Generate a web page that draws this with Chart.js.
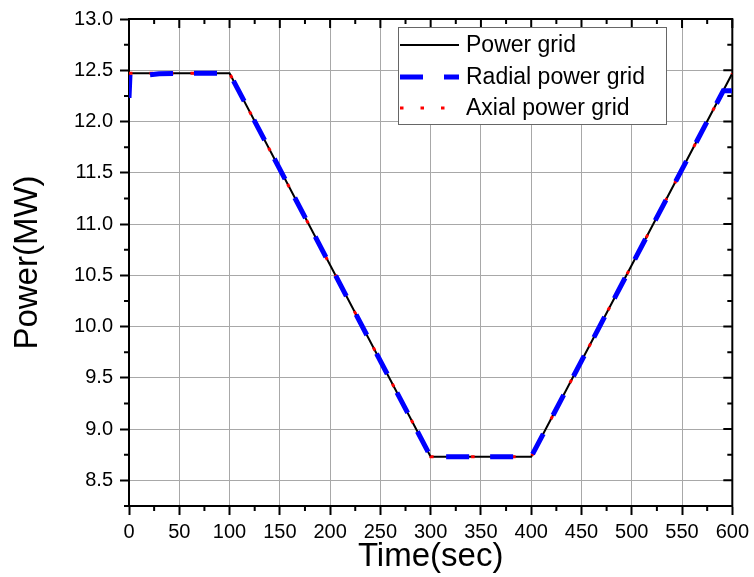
<!DOCTYPE html>
<html>
<head>
<meta charset="utf-8">
<script src="https://cdn.jsdelivr.net/npm/chart.js@4"></script>
<style>
  html, body { margin: 0; padding: 0; background: #fff; }
  #wrap { width: 754px; height: 577px; }
</style>
</head>
<body>
<div id="wrap"><canvas id="power-chart"></canvas></div>
<script>
// Données : puissance du réseau (MW) en fonction du temps (s)
const gridTime = [0, 100, 300, 400, 600];
const gridPower = [12.47, 12.47, 8.73, 8.73, 12.47];

const radialTime = [0, 1, 5, 15, 30, 50, 100, 300, 400, 591, 600];
const radialPower = [12.23, 12.46, 12.445, 12.45, 12.465, 12.47, 12.47, 8.73, 8.73, 12.30, 12.30];

const axialTime = [0, 100, 300, 400, 600];
const axialPower = [12.47, 12.47, 8.73, 8.73, 12.47];

const xTicks = [0, 50, 100, 150, 200, 250, 300, 350, 400, 450, 500, 550, 600];
const yTicks = [8.5, 9.0, 9.5, 10.0, 10.5, 11.0, 11.5, 12.0, 12.5, 13.0];
const seriesNames = ['Power grid', 'Radial power grid', 'Axial power grid'];

const FONT = '"Liberation Sans", Arial, sans-serif';

function toPoints(xs, ys) {
    return xs.map((x, i) => ({ x: x, y: ys[i] }));
}

// Cadre, petites graduations et graduations intérieures (haut / droite)
const framePlugin = {
    id: 'frame',
    beforeDatasetsDraw(chart) {
        const ctx = chart.ctx;
        const a = chart.chartArea;
        const xs = chart.scales.x;
        const ys = chart.scales.y;
        ctx.save();
        ctx.strokeStyle = '#000';
        ctx.lineWidth = 2;
        ctx.beginPath();
        // petites graduations en x
        for (let i = 0; i < xTicks.length - 1; i++) {
            const px = xs.getPixelForValue((xTicks[i] + xTicks[i + 1]) / 2);
            ctx.moveTo(px, a.bottom); ctx.lineTo(px, a.bottom + 5);
            ctx.moveTo(px, a.top); ctx.lineTo(px, a.top + 5);
        }
        // graduations majeures en haut
        xTicks.forEach(v => {
            const px = xs.getPixelForValue(v);
            ctx.moveTo(px, a.top); ctx.lineTo(px, a.top + 9);
        });
        // petites graduations en y
        const yMinor = [8.25].concat(yTicks.slice(0, -1).map(v => v + 0.25));
        yMinor.forEach(v => {
            const py = ys.getPixelForValue(v);
            ctx.moveTo(a.left, py); ctx.lineTo(a.left - 5, py);
            ctx.moveTo(a.right, py); ctx.lineTo(a.right - 5, py);
        });
        // graduations majeures à droite
        yTicks.forEach(v => {
            const py = ys.getPixelForValue(v);
            ctx.moveTo(a.right, py); ctx.lineTo(a.right - 9, py);
        });
        ctx.stroke();
        // cadre
        ctx.strokeRect(a.left, a.top, a.right - a.left, a.bottom - a.top);
        ctx.restore();
    }
};

// Légende encadrée dessinée à la main
const legendBoxPlugin = {
    id: 'legendBox',
    afterDraw(chart) {
        const ctx = chart.ctx;
        const box = { x: 398, y: 27, w: 268, h: 97 };
        const rows = [45, 77, 108];
        ctx.save();
        ctx.fillStyle = '#fff';
        ctx.fillRect(box.x, box.y, box.w, box.h);
        ctx.strokeStyle = '#666';
        ctx.lineWidth = 1;
        ctx.strokeRect(box.x + 0.5, box.y + 0.5, box.w, box.h);
        chart.data.datasets.forEach((ds, i) => {
            const y = rows[i];
            ctx.save();
            ctx.strokeStyle = ds.borderColor;
            ctx.lineWidth = ds.borderWidth;
            ctx.setLineDash(ds.borderDash || []);
            ctx.beginPath();
            ctx.moveTo(400, y);
            ctx.lineTo(459, y);
            ctx.stroke();
            ctx.restore();
            ctx.fillStyle = '#000';
            ctx.font = '23px ' + FONT;
            ctx.textBaseline = 'middle';
            ctx.fillText(ds.label, 466, y + 1);
        });
        ctx.restore();
    }
};

// ordre de tracé : noir en dessous, puis rouge, bleu au-dessus
const chart = new Chart(document.getElementById('power-chart'), {
    type: 'line',
    data: {
        datasets: [
            {
                label: seriesNames[0],
                data: toPoints(gridTime, gridPower),
                borderColor: '#000',
                borderWidth: 2,
                order: 3
            },
            {
                label: seriesNames[1],
                data: toPoints(radialTime, radialPower),
                borderColor: '#0000ff',
                borderWidth: 5,
                borderDash: [23, 21],
                order: 1
            },
            {
                label: seriesNames[2],
                data: toPoints(axialTime, axialPower),
                borderColor: '#ff0000',
                borderWidth: 3,
                borderDash: [3.5, 17],
                order: 2
            }
        ]
    },
    options: {
        responsive: true,
        maintainAspectRatio: false,
        animation: false,
        layout: { padding: { top: 18, right: 20, left: 0, bottom: 0 } },
        elements: {
            point: { radius: 0 },
            line: { tension: 0, borderCapStyle: 'butt' }
        },
        plugins: {
            legend: { display: false },
            tooltip: { enabled: false }
        },
        scales: {
            x: {
                type: 'linear',
                min: 0,
                max: 600,
                ticks: {
                    stepSize: 50,
                    color: '#000',
                    padding: 5,
                    maxRotation: 0,
                    font: { family: FONT, size: 20 }
                },
                grid: {
                    color: '#a8a8a8',
                    lineWidth: 1,
                    drawTicks: true,
                    tickLength: 9,
                    tickColor: '#000',
                    tickWidth: 2
                },
                border: { color: '#000', width: 2 },
                title: {
                    display: true,
                    text: 'Time(sec)',
                    color: '#000',
                    font: { family: FONT, size: 33, lineHeight: 1.2 },
                    padding: { top: 0, bottom: 0 }
                },
                afterFit(scale) { scale.height = 71; }
            },
            y: {
                type: 'linear',
                min: 8.25,
                max: 13.0,
                afterBuildTicks(scale) {
                    scale.ticks = yTicks.map(v => ({ value: v }));
                },
                ticks: {
                    color: '#000',
                    padding: 7,
                    font: { family: FONT, size: 20 },
                    callback: v => Number(v).toFixed(1)
                },
                grid: {
                    color: '#a8a8a8',
                    lineWidth: 1,
                    drawTicks: true,
                    tickLength: 9,
                    tickColor: '#000',
                    tickWidth: 2
                },
                border: { color: '#000', width: 2 },
                title: {
                    display: true,
                    text: 'Power(MW)',
                    color: '#000',
                    font: { family: FONT, size: 33, lineHeight: 1.2 },
                    padding: { top: 8, bottom: 0 }
                },
                afterFit(scale) { scale.width = 129; }
            }
        }
    },
    plugins: [framePlugin, legendBoxPlugin]
});
</script>
</body>
</html>
